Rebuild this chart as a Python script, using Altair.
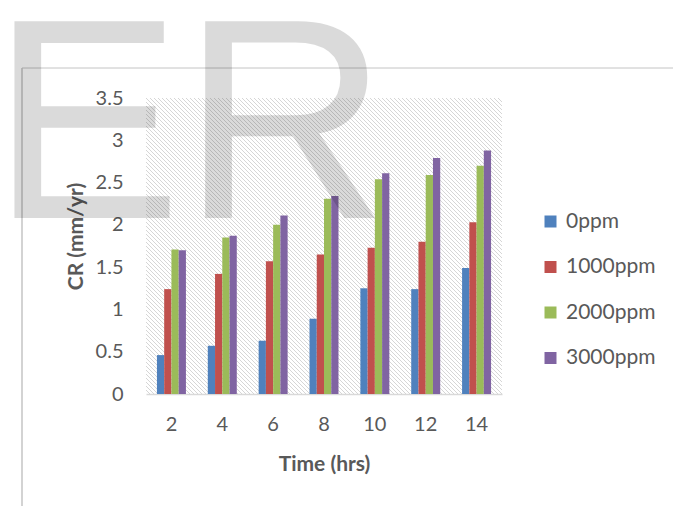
import altair as alt
import pandas as pd

# Corrosion rate (mm/yr) over exposure time for four inhibitor concentrations
hours = [2, 4, 6, 8, 10, 12, 14]
series_names = ["0ppm", "1000ppm", "2000ppm", "3000ppm"]
cr_0ppm = [0.46, 0.57, 0.63, 0.89, 1.25, 1.24, 1.49]
cr_1000ppm = [1.24, 1.42, 1.57, 1.65, 1.73, 1.80, 2.03]
cr_2000ppm = [1.71, 1.85, 2.00, 2.31, 2.54, 2.59, 2.70]
cr_3000ppm = [1.70, 1.87, 2.11, 2.34, 2.61, 2.79, 2.88]
series_colors = ["#4F81BD", "#C0504D", "#9BBB59", "#8064A2"]
y_ticks = [0, 0.5, 1, 1.5, 2, 2.5, 3, 3.5]

W, H = 356, 296
FONT = "Lato"
TXT = "#595959"

rows = []
for name, vals in zip(series_names, [cr_0ppm, cr_1000ppm, cr_2000ppm, cr_3000ppm]):
    for h, v in zip(hours, vals):
        rows.append({"hours": h, "series": name, "cr": v})
df = pd.DataFrame(rows)

# Diagonal hatch fill of the plot area
hatch = (
    alt.Chart(alt.sequence(-H, W + 4, 4, as_="k"))
    .transform_calculate(x1="datum.k", x2="datum.k + %d" % H, top=str(H), bottom="0")
    .mark_rule(color="#d6d6d6", strokeWidth=1, clip=True)
    .encode(
        x=alt.X("x1:Q", scale=alt.Scale(domain=[0, W], nice=False, zero=False), axis=None),
        x2="x2:Q",
        y=alt.Y("top:Q", scale=alt.Scale(domain=[0, H], nice=False), axis=None),
        y2="bottom:Q",
    )
)

bars = (
    alt.Chart(df)
    .mark_bar()
    .encode(
        x=alt.X(
            "hours:O",
            sort=hours,
            scale=alt.Scale(paddingInner=0.43, paddingOuter=0.215),
            axis=alt.Axis(
                title="Time (hrs)",
                labelAngle=0,
                ticks=False,
                domainColor="#d9d9d9",
                domainWidth=1.5,
                labelPadding=20,
                titleY=76,
                titleBaseline="alphabetic",
            ),
        ),
        xOffset=alt.XOffset("series:N", sort=series_names, scale=alt.Scale(paddingInner=0, paddingOuter=0)),
        y=alt.Y(
            "cr:Q",
            scale=alt.Scale(domain=[0, 3.5], nice=False),
            axis=alt.Axis(
                title="CR (mm/yr)",
                values=y_ticks,
                format="~g",
                grid=False,
                ticks=False,
                domain=False,
                labelPadding=23,
                titleX=-64,
                titleY=138,
                titleBaseline="alphabetic",
            ),
        ),
        color=alt.Color(
            "series:N",
            sort=series_names,
            scale=alt.Scale(domain=series_names, range=series_colors),
            legend=alt.Legend(
                title=None,
                orient="none",
                legendX=394,
                legendY=113,
                symbolType="square",
                symbolSize=144,
                symbolStrokeWidth=0,
                labelFontSize=21,
                labelFont=FONT,
                labelColor=TXT,
                labelOffset=5,
                rowPadding=23.5,
                padding=0,
            ),
        ),
    )
)

# Large translucent "ER" lettering across the top left
mark_er = (
    alt.Chart(alt.Data(values=[{}]))
    .mark_text(
        text="ER",
        font="Liberation Sans",
        fontSize=286,
        align="left",
        baseline="alphabetic",
        color="black",
        opacity=0.14,
    )
    .encode(x=alt.value(-155), y=alt.value(120))
)

# Outer frame lines
frame_top = (
    alt.Chart(alt.Data(values=[{}]))
    .mark_rule(color="#c4c4c4", strokeWidth=1)
    .encode(x=alt.value(-124), x2=alt.value(530), y=alt.value(-30))
)
frame_left = (
    alt.Chart(alt.Data(values=[{}]))
    .mark_rule(color="#c4c4c4", strokeWidth=1.5)
    .encode(x=alt.value(-124), y=alt.value(-30), y2=alt.value(412))
)

chart = (
    alt.layer(hatch, bars, frame_top, frame_left, mark_er)
    .resolve_scale(x="independent", y="independent")
    .properties(
        width=W,
        height=H,
        autosize=alt.AutoSizeParams(type="none"),
        padding={"left": 146, "top": 98, "right": 171, "bottom": 112},
    )
    .configure_view(strokeWidth=0)
    .configure_axis(
        labelFont=FONT,
        labelFontSize=20,
        labelColor=TXT,
        titleFont=FONT,
        titleFontSize=21,
        titleFontWeight="bold",
        titleColor=TXT,
    )
)

chart.save("out.html", embed_options={"renderer": "svg", "actions": False})
